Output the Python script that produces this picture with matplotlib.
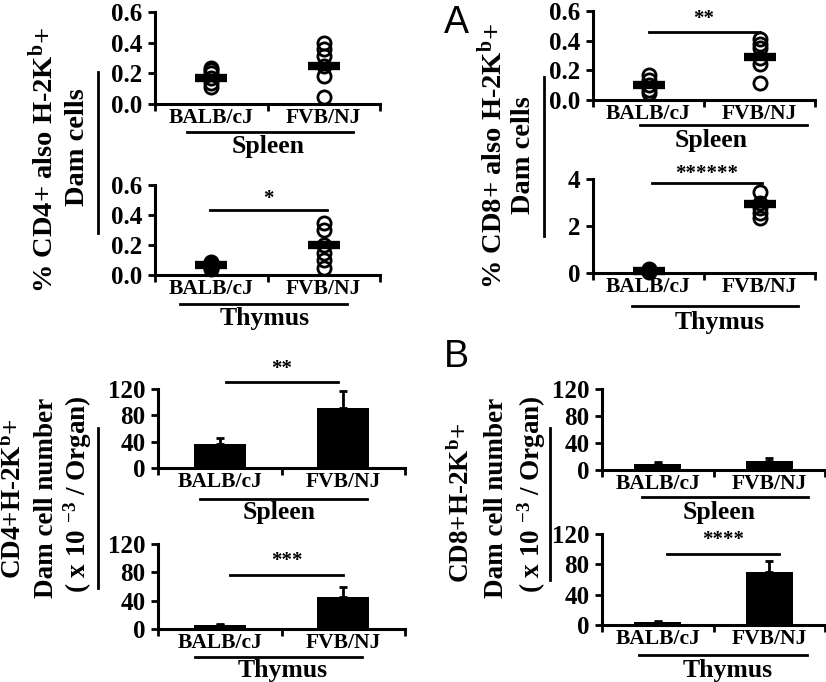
import matplotlib
matplotlib.use('Agg')
import matplotlib.pyplot as plt
from matplotlib.lines import Line2D
from matplotlib.ticker import FormatStrFormatter

plt.rcParams['font.family'] = ['Liberation Serif', 'DejaVu Serif']
plt.rcParams['font.weight'] = 'bold'
plt.rcParams['mathtext.fontset'] = 'custom'
plt.rcParams['mathtext.rm'] = 'Liberation Serif:bold'
plt.rcParams['mathtext.it'] = 'Liberation Serif:bold'
plt.rcParams['mathtext.bf'] = 'Liberation Serif:bold'

# ---------------- data ----------------
strains = ['BALB/cJ', 'FVB/NJ']
xpos = [0.5, 1.5]

# % CD4+ also H-2Kb+ Dam cells
cd4_pct_spleen_balb = [0.11, 0.14, 0.17, 0.20, 0.22, 0.235]
cd4_pct_spleen_fvb = [0.046, 0.18, 0.25, 0.31, 0.36, 0.40]
cd4_pct_spleen_mean = [0.17, 0.25]
cd4_pct_thymus_balb = [0.04, 0.05, 0.06, 0.07, 0.08, 0.09]
cd4_pct_thymus_fvb = [0.047, 0.10, 0.147, 0.20, 0.30, 0.35]
cd4_pct_thymus_mean = [0.065, 0.20]

# % CD8+ also H-2Kb+ Dam cells
cd8_pct_spleen_balb = [0.047, 0.067, 0.10, 0.135, 0.169]
cd8_pct_spleen_fvb = [0.115, 0.24, 0.28, 0.35, 0.38, 0.41]
cd8_pct_spleen_mean = [0.10, 0.29]
cd8_pct_thymus_balb = [0.05, 0.08, 0.10, 0.12, 0.15]
cd8_pct_thymus_fvb = [2.34, 2.55, 2.77, 2.98, 3.45]
cd8_pct_thymus_mean = [0.10, 2.94]

# Dam cell number (x 10^-3 / organ)
cd4_num_spleen = [36, 91]
cd4_num_spleen_err = [9, 26]
cd4_num_thymus = [5, 45]
cd4_num_thymus_err = [2, 14]
cd8_num_spleen = [9, 13]
cd8_num_spleen_err = [3, 5]
cd8_num_thymus = [4, 70]
cd8_num_thymus_err = [1, 14]

pct_ticks = [0.0, 0.2, 0.4, 0.6]
cd8_thymus_ticks = [0, 2, 4]
num_ticks = [0, 40, 80, 120]

# ---------------- figure ----------------
W, H = 826, 682
fig = plt.figure(figsize=(W / 100, H / 100), dpi=100)


def add_ax(x0, x1, ytop, ybot):
    return fig.add_axes([x0 / W, 1 - ybot / H, (x1 - x0) / W, (ybot - ytop) / H])


def style(ax, ylim, yticks, fmt):
    ax.set_xlim(0, 2)
    ax.set_ylim(*ylim)
    ax.set_yticks(yticks)
    ax.yaxis.set_major_formatter(FormatStrFormatter(fmt))
    ax.set_xticks([0, 1, 2])
    ax.set_xticklabels([])
    ax.set_xticks(xpos, minor=True)
    ax.set_xticklabels(strains, minor=True, fontsize=15.5, fontweight='bold')
    ax.tick_params(axis='x', which='minor', length=0, pad=3)
    ax.tick_params(axis='x', which='major', length=5, width=2, direction='out')
    ax.tick_params(axis='y', length=5, width=2, direction='out', labelsize=18, pad=4)
    for s in ['top', 'right']:
        ax.spines[s].set_visible(False)
    for s in ['left', 'bottom']:
        ax.spines[s].set_linewidth(2.2)
    ax.patch.set_alpha(0)


def scatter(ax, a, b, means):
    for x, vals in zip(xpos, [a, b]):
        ax.plot([x] * len(vals), vals, 'o', ms=9.5, mfc='none', mec='black',
                mew=2.0, clip_on=False, zorder=3)
    ax.plot(xpos, means, '_', ms=23, mew=6, color='black', clip_on=False, zorder=4)


def bars(ax, vals, errs):
    ax.bar(xpos, vals, width=0.42, color='black', zorder=2)
    ax.errorbar(xpos, vals, yerr=[[0, 0], errs], fmt='none', ecolor='black',
                elinewidth=2, capsize=3, capthick=2, zorder=3)


def sig(ax, x0, x1, y, ys, stars):
    ax.plot([x0, x1], [y, y], color='black', lw=2, clip_on=False)
    ax.text((x0 + x1) / 2, ys, stars, ha='center', va='center', fontsize=15,
            fontweight='bold')


def ftext(x, y, s, **kw):
    fig.text(x / W, 1 - y / H, s, **kw)


def fline(x0, x1, y0, y1, lw=2):
    fig.add_artist(Line2D([x0 / W, x1 / W], [1 - y0 / H, 1 - y1 / H], color='black', lw=lw))


# ---- A: percentages ----
ax1 = add_ax(155, 380, 12, 104)
style(ax1, (0, 0.6), pct_ticks, '%.1f')
scatter(ax1, cd4_pct_spleen_balb, cd4_pct_spleen_fvb, cd4_pct_spleen_mean)

ax2 = add_ax(155, 380, 185, 275)
style(ax2, (0, 0.6), pct_ticks, '%.1f')
scatter(ax2, cd4_pct_thymus_balb, cd4_pct_thymus_fvb, cd4_pct_thymus_mean)
sig(ax2, 0.49, 1.53, 0.433, 0.51, '*')

ax3 = add_ax(593, 815, 11, 100)
style(ax3, (0, 0.6), pct_ticks, '%.1f')
scatter(ax3, cd8_pct_spleen_balb, cd8_pct_spleen_fvb, cd8_pct_spleen_mean)
sig(ax3, 0.50, 1.50, 0.46, 0.545, '**')

ax4 = add_ax(593, 815, 179, 273)
style(ax4, (0, 4), cd8_thymus_ticks, '%d')
scatter(ax4, cd8_pct_thymus_balb, cd8_pct_thymus_fvb, cd8_pct_thymus_mean)
sig(ax4, 0.53, 1.52, 3.83, 4.2, '******')

# ---- B: cell numbers ----
ax5 = add_ax(158, 405, 389, 468)
style(ax5, (0, 120), num_ticks, '%d')
bars(ax5, cd4_num_spleen, cd4_num_spleen_err)
sig(ax5, 0.55, 1.46, 131, 150, '**')

ax6 = add_ax(158, 405, 544, 629)
style(ax6, (0, 120), num_ticks, '%d')
bars(ax6, cd4_num_thymus, cd4_num_thymus_err)
sig(ax6, 0.58, 1.50, 76, 96, '***')

ax7 = add_ax(602, 825, 389, 470)
style(ax7, (0, 120), num_ticks, '%d')
bars(ax7, cd8_num_spleen, cd8_num_spleen_err)

ax8 = add_ax(602, 825, 534, 625)
style(ax8, (0, 120), num_ticks, '%d')
bars(ax8, cd8_num_thymus, cd8_num_thymus_err)
sig(ax8, 0.58, 1.59, 93.6, 112, '****')

# ---- organ underlines ----
organs = [
    (187, 353, 132, 268, 146, 'Spleen'),
    (180, 347, 304, 265, 319, 'Thymus'),
    (640, 807, 125, 711, 140, 'Spleen'),
    (632, 798, 306, 720, 322, 'Thymus'),
    (200, 367, 499, 279, 513, 'Spleen'),
    (195, 362, 657, 283, 671, 'Thymus'),
    (642, 808, 497, 719, 512, 'Spleen'),
    (639, 807, 655, 728, 671, 'Thymus'),
]
for x0, x1, yl, xt, yt, name in organs:
    fline(x0, x1, yl, yl)
    ftext(xt, yt, name, ha='center', va='center', fontsize=18.5, fontweight='bold')

# ---- y labels ----
ftext(43, 160, r'% CD4+ also H-2K$^{b}$+', rotation=90, ha='center', va='center',
      fontsize=20.5, fontweight='bold')
ftext(78, 147, 'Dam cells', rotation=90, ha='center', va='center',
      fontsize=20.5, fontweight='bold')
fline(98, 98, 72, 233)

ftext(492, 156, r'% CD8+ also H-2K$^{b}$+', rotation=90, ha='center', va='center',
      fontsize=20.5, fontweight='bold')
ftext(523, 155, 'Dam cells', rotation=90, ha='center', va='center',
      fontsize=20.5, fontweight='bold')
fline(544, 544, 77, 236)

ftext(14, 499, r'CD4+H-2K$^{b}$+', rotation=90, ha='center', va='center',
      fontsize=19.5, fontweight='bold')
ftext(47, 498, 'Dam cell number', rotation=90, ha='center', va='center',
      fontsize=19.5, fontweight='bold')
ftext(78, 494, r'( x 10 $^{-3}$ / Organ)', rotation=90, ha='center', va='center',
      fontsize=19.5, fontweight='bold')
fline(98, 98, 428, 588)

ftext(462, 503, r'CD8+H-2K$^{b}$+', rotation=90, ha='center', va='center',
      fontsize=19.5, fontweight='bold')
ftext(497, 498, 'Dam cell number', rotation=90, ha='center', va='center',
      fontsize=19.5, fontweight='bold')
ftext(532, 494, r'( x 10 $^{-3}$ / Organ)', rotation=90, ha='center', va='center',
      fontsize=19.5, fontweight='bold')
fline(550, 550, 428, 580)

# ---- panel letters ----
ftext(456, 23, 'A', ha='center', va='center', fontsize=27,
      fontfamily='Liberation Sans', fontweight='normal')
ftext(456, 357, 'B', ha='center', va='center', fontsize=27,
      fontfamily='Liberation Sans', fontweight='normal')

fig.savefig('out.png', dpi=100)
